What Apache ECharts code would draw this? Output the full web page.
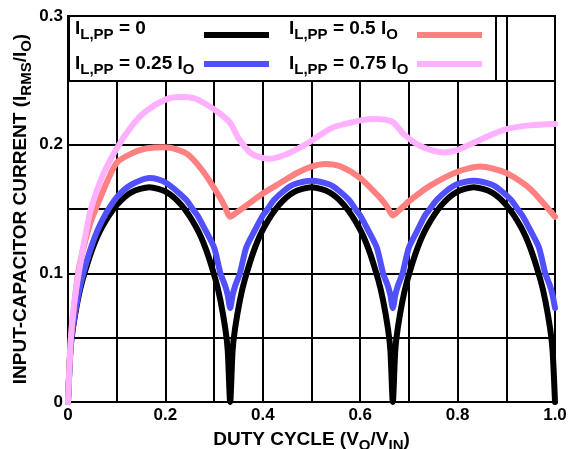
<!DOCTYPE html>
<html><head><meta charset="utf-8">
<script src="https://cdn.jsdelivr.net/npm/echarts@6/dist/echarts.min.js"></script>
<style>html,body{margin:0;padding:0;background:#fff}#c{width:568px;height:449px}</style>
</head><body><div id="c"></div>
<script>
const xTicks = [0, 0.2, 0.4, 0.6, 0.8, 1.0];
const xTickLabels = ['0', '0.2', '0.4', '0.6', '0.8', '1.0'];
const yTicks = [0, 0.1, 0.2, 0.3];
const yTickLabels = ['0', '0.1', '0.2', '0.3'];

const legendMain = ['= 0', '= 0.25 I', '= 0.5 I', '= 0.75 I'];
const seriesNames = ['IL,PP = 0', 'IL,PP = 0.25 IO', 'IL,PP = 0.5 IO', 'IL,PP = 0.75 IO'];
const seriesColors = ['#000000', '#5050ff', '#ff8080', '#ffb0ff'];

const blackD = [0, 0.005, 0.01, 0.02, 0.03, 0.05, 0.07, 0.1, 0.13, 0.167, 0.203, 0.233, 0.263, 0.283, 0.303, 0.313, 0.323, 0.328, 0.333,
  0.338, 0.343, 0.353, 0.363, 0.383, 0.403, 0.433, 0.463, 0.5, 0.537, 0.567, 0.597, 0.617, 0.637, 0.647, 0.657, 0.662, 0.667,
  0.672, 0.677, 0.687, 0.697, 0.717, 0.737, 0.767, 0.797, 0.833, 0.870, 0.900, 0.930, 0.950, 0.970, 0.980, 0.990, 0.995, 1.0];
const blackV = [0, 0.040, 0.057, 0.079, 0.095, 0.119, 0.136, 0.153, 0.163, 0.167, 0.163, 0.153, 0.136, 0.119, 0.095, 0.079, 0.057, 0.040, 0,
  0.040, 0.057, 0.079, 0.095, 0.119, 0.136, 0.153, 0.163, 0.167, 0.163, 0.153, 0.136, 0.119, 0.095, 0.079, 0.057, 0.040, 0,
  0.040, 0.057, 0.079, 0.095, 0.119, 0.136, 0.153, 0.163, 0.167, 0.163, 0.153, 0.136, 0.119, 0.095, 0.079, 0.057, 0.040, 0];

const blueD = [0, 0.005, 0.01, 0.02, 0.03, 0.05, 0.07, 0.1, 0.13, 0.167, 0.185, 0.203, 0.223, 0.243, 0.256, 0.266, 0.283, 0.3, 0.313, 0.323, 0.328, 0.333,
  0.338, 0.343, 0.353, 0.366, 0.383, 0.400, 0.410, 0.423, 0.443, 0.463, 0.5, 0.537, 0.557, 0.577, 0.590, 0.600, 0.617, 0.634, 0.647, 0.657, 0.662, 0.667,
  0.672, 0.677, 0.687, 0.700, 0.717, 0.733, 0.743, 0.757, 0.777, 0.797, 0.833, 0.870, 0.890, 0.910, 0.923, 0.933, 0.950, 0.967, 0.980, 0.990, 0.995, 1.0];
const blueV = [0, 0.041, 0.058, 0.081, 0.098, 0.123, 0.141, 0.159, 0.169, 0.174, 0.173, 0.170, 0.164, 0.157, 0.150, 0.145, 0.133, 0.120, 0.100, 0.090, 0.083, 0.073,
  0.083, 0.090, 0.100, 0.120, 0.133, 0.145, 0.150, 0.157, 0.164, 0.169, 0.172, 0.169, 0.164, 0.157, 0.150, 0.145, 0.133, 0.120, 0.100, 0.090, 0.083, 0.073,
  0.083, 0.090, 0.100, 0.120, 0.133, 0.145, 0.150, 0.157, 0.164, 0.169, 0.172, 0.169, 0.164, 0.157, 0.150, 0.145, 0.133, 0.120, 0.100, 0.090, 0.083, 0.073];

const redD = [0, 0.005, 0.01, 0.02, 0.03, 0.045, 0.057, 0.08, 0.1, 0.13, 0.16, 0.2, 0.244, 0.278, 0.312, 0.322, 0.333, 0.345, 0.36, 0.4, 0.435, 0.47, 0.5, 0.528, 0.56, 0.6, 0.64, 0.655, 0.667, 0.68, 0.7, 0.743, 0.8, 0.846, 0.9, 0.948, 1.0];
const redV = [0, 0.045, 0.065, 0.098, 0.117, 0.138, 0.150, 0.171, 0.186, 0.193, 0.197, 0.198, 0.193, 0.179, 0.159, 0.152, 0.144, 0.147, 0.151, 0.162, 0.170, 0.178, 0.183, 0.185, 0.183, 0.174, 0.159, 0.152, 0.145, 0.149, 0.156, 0.168, 0.179, 0.183, 0.178, 0.166, 0.144];

const pinkD = [0, 0.006, 0.012, 0.022, 0.035, 0.047, 0.07, 0.1, 0.13, 0.16, 0.2, 0.23, 0.26, 0.281, 0.309, 0.333, 0.35, 0.377, 0.411, 0.445, 0.487, 0.542, 0.603, 0.63, 0.665, 0.69, 0.718, 0.744, 0.771, 0.8, 0.853, 0.9, 0.948, 1.0];
const pinkV = [0, 0.05, 0.075, 0.1, 0.128, 0.15, 0.175, 0.197, 0.214, 0.226, 0.235, 0.237, 0.236, 0.232, 0.225, 0.217, 0.205, 0.193, 0.189, 0.192, 0.200, 0.213, 0.219, 0.220, 0.218, 0.208, 0.200, 0.196, 0.194, 0.196, 0.205, 0.212, 0.215, 0.216];

const FONT = '"Liberation Sans", Arial, sans-serif';
const pairs = (d, v) => d.map((x, i) => [x, v[i]]);
const seriesData = [pairs(blackD, blackV), pairs(blueD, blueV), pairs(redD, redV), pairs(pinkD, pinkV)];
const pickLabel = (ticks, labels) => v => { const i = ticks.findIndex(t => Math.abs(t - v) < 1e-6); return i < 0 ? '' : labels[i]; };

const richBase = {
  m: { fontFamily: FONT, fontWeight: 'bold', fontSize: 19, lineHeight: 22, color: '#000' },
  s: { fontFamily: FONT, fontWeight: 'bold', fontSize: 15, lineHeight: 16, color: '#000', padding: [12, 0, 0, 0] }
};

function legendText(i) {
  const main = legendMain[i];
  const hasO = main.endsWith('I');
  return '{m|I}{s|L,PP}{m| ' + main + '}' + (hasO ? '{s|O}' : '');
}
const legendPos = [[75, 28.5, 204, 35], [75, 63.5, 204, 64], [289, 28.5, 417, 35], [289, 63.5, 417, 64]];
const graphic = [{ type: 'rect', z: 100, shape: { x: 69, y: 16, width: 427, height: 65 }, style: { fill: '#fff', stroke: '#000', lineWidth: 2 } }];
legendPos.forEach((p, i) => {
  graphic.push({ type: 'text', z: 101, x: p[0], y: p[1], style: { text: legendText(i), rich: richBase, verticalAlign: 'middle', align: 'left' } });
  graphic.push({ type: 'line', z: 101, shape: { x1: p[2], y1: p[3], x2: p[2] + 65, y2: p[3] }, style: { stroke: seriesColors[i], lineWidth: 6 } });
});

const chart = echarts.init(document.getElementById('c'), null, { renderer: 'canvas' });
chart.setOption({
  animation: false,
  backgroundColor: '#fff',
  grid: { left: 68, right: 13, top: 16, bottom: 47, show: true, borderColor: '#000', borderWidth: 2, containLabel: false, outerBoundsMode: 'none' },
  xAxis: {
    type: 'value', min: 0, max: 1, interval: 0.1,
    name: '{m|DUTY CYCLE (V}{s|O}{m|/V}{s|IN}{m|)}', nameLocation: 'middle', nameGap: 27, nameMoveOverlap: false,
    nameTextStyle: { rich: richBase },
    axisLine: { lineStyle: { color: '#000', width: 2 } },
    axisTick: { show: false },
    splitLine: { show: true, lineStyle: { color: '#000', width: 2 } },
    axisLabel: { formatter: pickLabel(xTicks, xTickLabels), fontFamily: FONT, fontWeight: 'bold', fontSize: 17, color: '#000', margin: 5, showMinLabel: true, showMaxLabel: true }
  },
  yAxis: {
    type: 'value', min: 0, max: 0.3, interval: 0.05,
    name: '{m|INPUT-CAPACITOR CURRENT (I}{s|RMS}{m|/I}{s|O}{m|)}', nameLocation: 'middle', nameGap: 36, nameMoveOverlap: false,
    nameTextStyle: { rich: richBase },
    axisLine: { lineStyle: { color: '#000', width: 2 } },
    axisTick: { show: false },
    splitLine: { show: true, lineStyle: { color: '#000', width: 2 } },
    axisLabel: { formatter: pickLabel(yTicks, yTickLabels), fontFamily: FONT, fontWeight: 'bold', fontSize: 17, color: '#000', margin: 5, showMinLabel: true, showMaxLabel: true }
  },
  series: seriesData.map((d, i) => ({
    name: seriesNames[i], type: 'line', data: d, showSymbol: false, smooth: 0.25,
    lineStyle: { color: seriesColors[i], width: 6, join: 'round', cap: 'round' }, itemStyle: { color: seriesColors[i] }, clip: false
  })),
  graphic: graphic
});
</script>
</body></html>
